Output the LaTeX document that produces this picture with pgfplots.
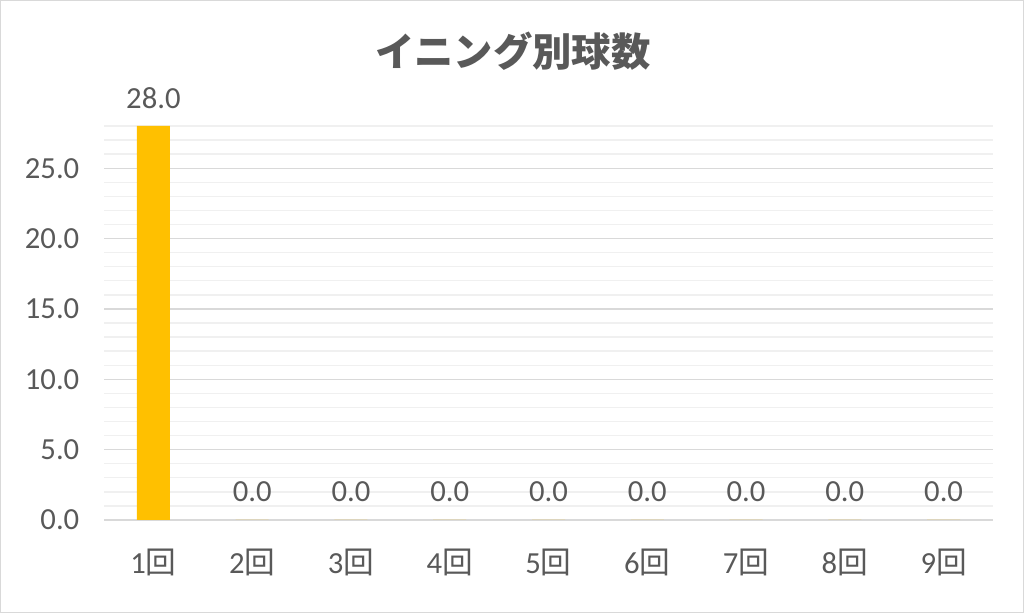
\documentclass[border=0pt]{standalone}
\usepackage{fontspec}
\setmainfont{Carlito}
\newfontfamily\jp{Noto Sans CJK JP}
\usepackage{pgfplots}
\pgfplotsset{compat=1.18}
\definecolor{txt}{HTML}{595959}
\definecolor{bar}{HTML}{FFC000}
\definecolor{majgrid}{HTML}{D9D9D9}
\definecolor{mingrid}{HTML}{F0F0F0}
\begin{document}
\begin{tikzpicture}
\draw[majgrid, line width=1pt] (0.5pt,0.5pt) rectangle (767.5pt,459.25pt);
\begin{axis}[
  at={(78pt,69.75pt)},
  anchor=south west,
  scale only axis,
  width=666.75pt,
  height=295.5pt,
  ybar,
  bar width=24.75pt,
  xmin=0.5, xmax=9.5,
  ymin=0, ymax=28,
  xtick={1,...,9},
  xticklabels={1{\jp 回},2{\jp 回},3{\jp 回},4{\jp 回},5{\jp 回},6{\jp 回},7{\jp 回},8{\jp 回},9{\jp 回}},
  ytick={0,5,...,25},
  minor ytick={1,...,28},
  yticklabel={\pgfmathprintnumber[fixed,fixed zerofill,precision=1]{\tick}},
  /pgf/number format/assume math mode=true,
  ymajorgrids, yminorgrids,
  major grid style={majgrid, line width=1pt},
  minor grid style={mingrid, line width=1pt},
  axis line style={draw=none},
  major tick length=0pt, minor tick length=0pt,
  tick label style={font=\fontsize{23}{27}\selectfont, text=txt},
  yticklabel style={xshift=-15pt},
  xticklabel style={yshift=-18pt},
  title={\jp\bfseries イニング別球数},
  title style={at={(0.46,1)}, anchor=center, yshift=50pt, font=\fontsize{29.5}{33}\selectfont, text=txt},
  nodes near coords={\pgfmathprintnumber[fixed,fixed zerofill,precision=1]{\pgfplotspointmeta}},
  nodes near coords style={font=\fontsize{23}{27}\selectfont, text=txt, anchor=center, yshift=21pt},
  clip=false,
]
\addplot[fill=bar, draw=none] coordinates {
  (1,28) (2,0) (3,0) (4,0) (5,0) (6,0) (7,0) (8,0) (9,0)
};
\end{axis}
\end{tikzpicture}
\end{document}
